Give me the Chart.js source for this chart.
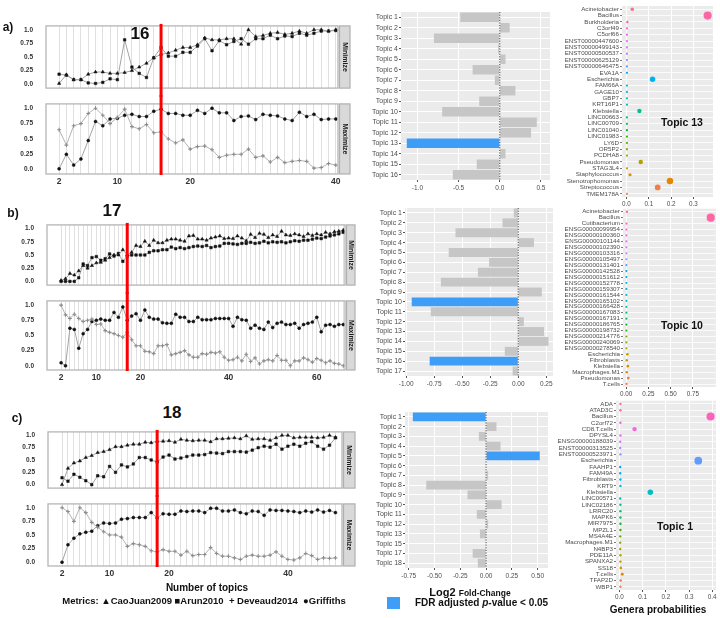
<!DOCTYPE html>
<html>
<head>
<meta charset="utf-8">
<script src="https://cdn.jsdelivr.net/npm/chart.js@4.4.1/dist/chart.umd.min.js"></script>
<style>
  body { margin: 0; background: #fff; }
  #fig { position: relative; width: 720px; height: 618px; overflow: hidden; font-family: "Liberation Sans", Arial, sans-serif; }
  #fig canvas { position: absolute; }
  .txt { position: absolute; font-weight: bold; color: #111; white-space: nowrap; line-height: 1; }
</style>
</head>
<body>
<div id="fig"></div>
<script>
// ===== DATA =====
const seq = (a, b) => Array.from({ length: b - a + 1 }, (_, i) => a + i);

// a) number of topics 2..40
const topicsA = seq(2, 40);
const caoA = [0.015,0.175,0.085,0.085,0.185,0.225,0.225,0.2,0.2,0.215,0.25,0.315,0.385,0.485,0.55,0.575,0.625,0.675,0.675,0.725,0.85,0.815,0.815,0.835,0.835,0.735,1.0,0.875,0.895,0.935,0.95,0.915,0.935,0.975,0.935,1.0,1.0,0.975,1.0];
const arunA = [0.185,0.165,0.085,0.085,0.025,0.015,0.035,0.1,0.085,0.815,0.315,0.2,0.125,0.485,0.675,0.515,0.515,0.585,0.585,0.7,0.835,0.615,0.8,0.725,0.785,0.835,0.735,0.835,0.835,0.9,0.835,0.885,0.875,0.935,0.9,0.935,0.975,0.975,0.985];
const deveaudA = [0.65,0.4,0.715,0.75,0.915,1.0,0.885,0.75,0.85,0.985,0.7,0.665,0.735,0.6,0.615,0.5,0.435,0.485,0.335,0.375,0.385,0.325,0.2,0.235,0.25,0.25,0.335,0.2,0.225,0.125,0.2,0.115,0.135,0.15,0.135,0.025,0.035,0.1,0.075];
const griffithsA = [0.015,0.25,0.075,0.175,0.475,0.785,0.715,0.825,0.835,0.885,0.9,0.865,0.865,0.95,0.985,0.915,0.915,0.885,0.885,0.965,0.915,1.0,0.925,0.925,0.8,0.865,0.875,0.815,0.9,0.885,0.875,0.825,0.8,0.935,0.865,0.9,0.815,0.825,0.825];
const xLabelsA = [2, 10, 20, 40];
const chosenA = 16;

// b) number of topics 2..66
const topicsB = seq(2, 66);
const caoB = [0.02,0.05,0.15,0.12,0.2,0.3,0.25,0.3,0.35,0.36,0.4,0.45,0.5,0.5,0.6,0.5,0.55,0.68,0.66,0.76,0.68,0.78,0.73,0.73,0.78,0.8,0.8,0.78,0.76,0.86,0.87,0.8,0.8,0.78,0.82,0.84,0.86,0.81,0.82,0.81,0.86,0.82,0.77,0.89,0.83,0.91,0.89,0.83,0.88,0.85,0.95,0.88,0.87,0.9,0.88,0.85,0.9,0.87,0.9,0.88,0.93,0.9,0.94,0.95,0.97];
const arunB = [0.0,0.0,0.0,0.0,0.07,0.33,0.3,0.45,0.47,0.4,0.43,0.52,0.48,0.53,0.38,0.48,0.5,0.5,0.5,0.5,0.55,0.58,0.58,0.6,0.6,0.65,0.62,0.64,0.62,0.64,0.66,0.67,0.66,0.68,0.64,0.66,0.67,0.72,0.72,0.71,0.7,0.72,0.72,0.74,0.72,0.73,0.76,0.73,0.75,0.74,0.75,0.73,0.75,0.77,0.76,0.78,0.78,0.8,0.82,0.81,0.84,0.86,0.88,0.9,0.93];
const deveaudB = [1.0,0.84,0.78,0.85,0.78,0.73,0.75,0.77,0.68,0.69,0.58,0.55,0.53,0.5,0.47,0.55,0.43,0.33,0.33,0.24,0.23,0.2,0.33,0.33,0.35,0.18,0.2,0.22,0.25,0.18,0.14,0.14,0.2,0.19,0.22,0.21,0.23,0.14,0.09,0.1,0.14,0.08,0.19,0.07,0.13,0.03,0.08,0.1,0.08,0.17,0.09,0.09,0.0,0.08,0.08,0.13,0.1,0.06,0.12,0.09,0.05,0.08,0.04,0.03,0.0];
const griffithsB = [0.05,0.0,0.62,0.6,0.29,0.53,0.6,0.73,0.75,0.77,0.75,0.75,0.88,0.8,0.97,0.75,0.82,0.86,0.75,0.92,0.8,0.77,0.77,0.71,0.7,0.7,0.85,0.8,0.8,0.73,0.73,0.8,0.76,0.76,0.76,0.78,0.78,0.78,0.78,0.65,0.8,0.76,0.75,0.62,0.67,0.62,0.6,0.72,0.63,0.7,0.72,0.68,0.68,0.7,0.62,0.68,0.7,0.72,0.8,0.56,0.67,0.68,0.65,0.68,0.68];
const xLabelsB = [2, 10, 20, 40, 60];
const chosenB = 17;

// c) number of topics 2..48
const topicsC = seq(2, 48);
const caoC = [0.0,0.33,0.44,0.48,0.55,0.59,0.65,0.67,0.71,0.77,0.77,0.8,0.82,0.82,0.86,0.85,0.88,0.88,0.89,0.86,0.92,0.9,0.89,0.9,0.9,0.87,0.93,0.93,0.94,0.95,0.93,0.99,0.92,0.93,0.93,0.9,0.95,1.0,1.0,0.95,0.96,0.96,0.96,0.95,0.96,1.0,0.96];
const arunC = [0.14,0.07,0.21,0.15,0.08,0.0,0.18,0.16,0.37,0.25,0.4,0.36,0.42,0.55,0.55,0.5,0.46,0.56,0.6,0.52,0.54,0.57,0.6,0.6,0.61,0.65,0.64,0.63,0.67,0.67,0.67,0.66,0.7,0.75,0.78,0.76,0.82,0.72,0.78,0.82,0.78,0.84,0.87,0.78,0.72,0.8,0.95];
const deveaudC = [1.0,0.93,0.75,1.0,0.91,0.73,0.64,0.56,0.5,0.5,0.46,0.29,0.34,0.32,0.29,0.21,0.19,0.23,0.2,0.2,0.13,0.2,0.12,0.14,0.14,0.27,0.16,0.11,0.11,0.08,0.05,0.11,0.13,0.11,0.11,0.13,0.19,0.11,0.05,0.04,0.08,0.16,0.12,0.05,0.08,0.07,0.08];
const griffithsC = [0.0,0.32,0.44,0.52,0.55,0.57,0.67,0.72,0.71,0.72,0.79,0.8,0.82,0.82,0.82,0.91,0.81,0.89,0.88,0.88,0.94,0.93,0.94,0.94,0.91,0.99,0.99,0.94,0.94,0.96,0.91,0.89,0.94,0.93,0.86,0.96,0.95,0.95,0.94,0.93,0.91,0.94,0.92,0.96,0.92,0.95,0.91];
const xLabelsC = [2, 10, 20, 40];
const chosenC = 18;

const yTicks = [0, 0.25, 0.5, 0.75, 1];
const yTickText = ['0.0', '0.25', '0.5', '0.75', '1.0'];

// log2 fold-change per topic
const barTopicsA = ['Topic 1','Topic 2','Topic 3','Topic 4','Topic 5','Topic 6','Topic 7','Topic 8','Topic 9','Topic 10','Topic 11','Topic 12','Topic 13','Topic 14','Topic 15','Topic 16'];
const lfcA = [-0.48,0.12,-0.8,-0.02,0.07,-0.33,-0.06,0.19,-0.25,-0.7,0.45,0.38,-1.13,0.07,-0.28,-0.57];
const sigA = ['Topic 13'];
const lfcTicksA = [-1.0, -0.5, 0.0, 0.5];
const lfcTickTextA = ['-1.0', '-0.5', '0.0', '0.5'];

const barTopicsB = ['Topic 1','Topic 2','Topic 3','Topic 4','Topic 5','Topic 6','Topic 7','Topic 8','Topic 9','Topic 10','Topic 11','Topic 12','Topic 13','Topic 14','Topic 15','Topic 16','Topic 17'];
const lfcB = [-0.04,-0.14,-0.56,0.14,-0.62,-0.26,-0.36,-0.69,0.21,-0.95,-0.78,0.05,0.23,0.27,-0.12,-0.79,-0.05];
const sigB = ['Topic 10', 'Topic 16'];
const lfcTicksB = [-1.0, -0.75, -0.5, -0.25, 0.0, 0.25];
const lfcTickTextB = ['-1.00', '-0.75', '-0.50', '-0.25', '0.00', '0.25'];

const barTopicsC = ['Topic 1','Topic 2','Topic 3','Topic 4','Topic 5','Topic 6','Topic 7','Topic 8','Topic 9','Topic 10','Topic 11','Topic 12','Topic 13','Topic 15','Topic 17','Topic 18'];
const lfcC = [-0.71,0.1,-0.07,0.14,0.52,0.0,0.02,-0.58,-0.18,0.15,-0.09,0.02,-0.06,0.0,-0.13,-0.08];
const sigC = ['Topic 1', 'Topic 5'];
const lfcTicksC = [-0.75, -0.5, -0.25, 0.0, 0.25, 0.5];
const lfcTickTextC = ['-0.75', '-0.50', '-0.25', '0.00', '0.25', '0.50'];

// genera probabilities per topic
const generaA = ['Acinetobacter','Bacillus','Burkholderia','C3orf49','C5orf66','ENST00000447600','ENST00000499143','ENST00000500537','ENST00000625129','ENST00000646475','EVA1A','Escherichia','FAM66A','GAGE10','GBP7','KRT16P1','Klebsiella','LINC00663','LINC00709','LINC01040','LINC01983','LY6D','OR5P2','PCDHA8','Pseudomonas','STAG3L4','Staphylococcus','Stenotrophomonas','Streptococcus','TMEM178A'];
const probA = [0.026,0.364,0.004,0.002,0.002,0.002,0.002,0.002,0.002,0.002,0.002,0.117,0.002,0.002,0.002,0.002,0.058,0.002,0.002,0.002,0.002,0.002,0.002,0.002,0.064,0.002,0.016,0.195,0.14,0.002];
const probTicksA = [0, 0.1, 0.2, 0.3];
const probTickTextA = ['0.0', '0.1', '0.2', '0.3'];

const generaB = ['Acinetobacter','Bacillus','Cutibacterium','ENSG00000099954','ENSG00000100360','ENSG00000101144','ENSG00000102390','ENSG00000103316','ENSG00000105497','ENSG00000131401','ENSG00000142528','ENSG00000151612','ENSG00000152778','ENSG00000159307','ENSG00000161544','ENSG00000165102','ENSG00000166428','ENSG00000167083','ENSG00000167191','ENSG00000186765','ENSG00000198732','ENSG00000214776','ENSG00000240069','ENSG00000278540','Escherichia','Fibroblasts','Klebsiella','Macrophages.M1','Pseudomonas','T.cells'];
const probB = [0.01,0.95,0.005,0.004,0.004,0.004,0.004,0.004,0.004,0.004,0.004,0.004,0.004,0.004,0.004,0.004,0.004,0.004,0.004,0.004,0.004,0.004,0.004,0.004,0.015,0.008,0.02,0.008,0.025,0.006];
const probTicksB = [0, 0.25, 0.5, 0.75];
const probTickTextB = ['0.00', '0.25', '0.50', '0.75'];

const generaC = ['ADA','ATAD3C','Bacillus','C2orf72','CD8.T.cells','DPYSL4','ENSG00000188039','ENST00000313525','ENST00000523971','Escherichia','FAAHP1','FAM49A','Fibroblasts','KRT9','Klebsiella','LINC00571','LINC02186','LRRC20','MAPK6','MIR7975','MPZL1','MS4A4E','Macrophages.M1','N4BP3','PDE11A','SPANXA2','SS18','T.cells','TFAP2D','WBP1'];
const probC = [0.004,0.004,0.393,0.004,0.065,0.004,0.003,0.003,0.004,0.34,0.003,0.003,0.004,0.004,0.133,0.003,0.004,0.004,0.004,0.004,0.004,0.003,0.003,0.003,0.004,0.004,0.006,0.012,0.005,0.004];
const probTicksC = [0, 0.1, 0.2, 0.3, 0.4];
const probTickTextC = ['0.0', '0.1', '0.2', '0.3', '0.4'];

// ===== STYLE =====
Chart.defaults.font.family = '"Liberation Sans", Arial, sans-serif';
const BLUE = '#3d9df7';
const GREY_BAR = '#c6c6c6';
const PANEL_BG = '#ebebeb';
const MARK = {
  cao:   { pointStyle: 'triangle', r: 1.9, fill: '#111', line: '#a3a3a3' },
  arun:  { pointStyle: 'rect', r: 1.8, fill: '#111', line: '#a3a3a3' },
  dev:   { pointStyle: 'cross', r: 1.9, fill: '#8c8c8c', line: '#b3b3b3' },
  griff: { pointStyle: 'circle', r: 1.5, fill: '#111', line: '#a3a3a3' }
};

// ggplot-like hue palette (hcl, c=100, l=65)
function hcl(h, c = 100, l = 65) {
  const hr = h * Math.PI / 180;
  const U = c * Math.cos(hr), V = c * Math.sin(hr);
  const Xn = 95.047, Yn = 100, Zn = 108.883;
  const den = Xn + 15 * Yn + 3 * Zn;
  const un = 4 * Xn / den, vn = 9 * Yn / den;
  const Y = Yn * Math.pow((l + 16) / 116, 3);
  const u = U / (13 * l) + un, v = V / (13 * l) + vn;
  const X = Y * 9 * u / (4 * v), Z = Y * (12 - 3 * u - 20 * v) / (4 * v);
  const x = X / 100, y = Y / 100, z = Z / 100;
  const lin = [3.2404542 * x - 1.5371385 * y - 0.4985314 * z,
               -0.9692660 * x + 1.8760108 * y + 0.0415560 * z,
               0.0556434 * x - 0.2040259 * y + 1.0572252 * z];
  const rgb = lin.map(k => {
    k = k <= 0.0031308 ? 12.92 * k : 1.055 * Math.pow(k, 1 / 2.4) - 0.055;
    return Math.round(255 * Math.min(1, Math.max(0, k)));
  });
  return `rgb(${rgb.join(',')})`;
}
const huePalette = n => Array.from({ length: n }, (_, i) => hcl(15 + (n - 1 - i) * 360 / n));

// ===== HELPERS =====
const fig = document.getElementById('fig');

function canvasAt(left, top, w, h) {
  const c = document.createElement('canvas');
  c.width = w; c.height = h;
  c.style.left = left + 'px'; c.style.top = top + 'px';
  c.style.width = w + 'px'; c.style.height = h + 'px';
  fig.appendChild(c);
  return c;
}

function label(html, x, y, size, extra) {
  const d = document.createElement('div');
  d.className = 'txt';
  d.innerHTML = html;
  d.style.left = x + 'px';
  d.style.top = y + 'px';
  d.style.fontSize = size + 'px';
  d.style.transform = 'translate(-50%, -50%)';
  if (extra) Object.assign(d.style, extra);
  fig.appendChild(d);
  return d;
}

// ===== PLUGINS =====
const panelBg = {
  id: 'panelBg',
  beforeDraw(chart, args, o) {
    if (!o.color) return;
    const a = chart.chartArea, c = chart.ctx;
    c.save();
    c.fillStyle = o.color;
    c.fillRect(a.left, a.top, a.right - a.left, a.bottom - a.top);
    c.restore();
  }
};

const panelBox = {
  id: 'panelBox',
  afterDraw(chart, args, o) {
    const a = chart.chartArea, c = chart.ctx;
    c.save();
    c.strokeStyle = o.color || '#b5b5b5';
    c.lineWidth = 1.3;
    c.strokeRect(a.left, a.top, a.right - a.left, a.bottom - a.top);
    c.restore();
  }
};

const strip = {
  id: 'strip',
  afterDraw(chart, args, o) {
    if (!o.text) return;
    const a = chart.chartArea, c = chart.ctx;
    const x0 = a.right + 1.5, w = o.width;
    c.save();
    c.fillStyle = '#d9d9d9';
    c.fillRect(x0, a.top, w, a.bottom - a.top);
    c.strokeStyle = '#b0b0b0';
    c.lineWidth = 1.2;
    c.strokeRect(x0, a.top, w, a.bottom - a.top);
    c.translate(x0 + w / 2, (a.top + a.bottom) / 2);
    c.rotate(Math.PI / 2);
    c.fillStyle = '#1a1a1a';
    c.font = 'bold 7px "Liberation Sans", Arial, sans-serif';
    c.textAlign = 'center';
    c.textBaseline = 'middle';
    c.fillText(o.text, 0, 0);
    c.restore();
  }
};

const redLine = {
  id: 'redLine',
  afterDraw(chart, args, o) {
    if (o.at == null) return;
    const x = chart.scales.x.getPixelForValue(o.at);
    const a = chart.chartArea, c = chart.ctx;
    c.save();
    c.strokeStyle = '#ff0000';
    c.lineWidth = 3;
    c.beginPath();
    c.moveTo(x, o.fromCanvasTop ? 0 : a.top - 2);
    c.lineTo(x, o.toCanvasBottom ? chart.height : a.bottom + 1);
    c.stroke();
    c.restore();
  }
};

const zeroLine = {
  id: 'zeroLine',
  afterDatasetsDraw(chart) {
    const x = chart.scales.x.getPixelForValue(0);
    const a = chart.chartArea, c = chart.ctx;
    c.save();
    c.strokeStyle = '#444';
    c.lineWidth = 1;
    c.setLineDash([1.2, 1.4]);
    c.beginPath();
    c.moveTo(x, a.top);
    c.lineTo(x, a.bottom);
    c.stroke();
    c.restore();
  }
};

// ===== TOPIC-NUMBER PANELS (Minimize / Maximize) =====
function topicPanel(o) {
  const h = o.bottom - o.top + 4 + (o.showX ? o.xLabH : 0);
  const w = o.stripR + 2;
  const cv = canvasAt(0, o.top - 2, w, h);
  return new Chart(cv, {
    type: 'line',
    data: {
      datasets: o.series.map(s => ({
        data: o.topics.map((k, i) => ({ x: k, y: s.values[i] })),
        borderColor: s.mark.line,
        borderWidth: 1,
        pointStyle: s.mark.pointStyle,
        pointRadius: s.mark.r,
        pointBackgroundColor: s.mark.fill,
        pointBorderColor: s.mark.fill,
        pointBorderWidth: s.mark.pointStyle === 'cross' ? 1.1 : 0.5,
        tension: 0
      }))
    },
    options: {
      responsive: false,
      animation: false,
      events: [],
      layout: { padding: { top: 2, bottom: o.showX ? 0 : 2, left: 0, right: w - o.plotR } },
      plugins: {
        legend: { display: false },
        tooltip: { enabled: false },
        panelBox: { color: '#b5b5b5' },
        strip: { text: o.strip, width: o.stripR - o.plotR - 1.5 },
        redLine: { at: o.chosen, fromCanvasTop: o.showX, toCanvasBottom: !o.showX }
      },
      scales: {
        x: {
          type: 'linear',
          min: o.xMin,
          max: o.xMax,
          afterBuildTicks: s => { s.ticks = o.topics.map(v => ({ value: v })); },
          afterFit: s => { s.height = o.showX ? o.xLabH : 0; },
          grid: { color: '#e0e0e0', lineWidth: 1, drawTicks: false },
          border: { display: false },
          ticks: {
            display: o.showX,
            autoSkip: false,
            maxRotation: 0,
            padding: 3,
            color: '#333',
            font: { size: 8.5, weight: 'bold' },
            callback: v => (o.xLabels.includes(v) ? String(v) : '')
          }
        },
        y: {
          min: -0.07,
          max: 1.07,
          afterBuildTicks: s => { s.ticks = yTicks.map(v => ({ value: v })); },
          afterFit: s => { s.width = o.plotL; },
          grid: { display: false },
          border: { display: false },
          ticks: {
            padding: 5,
            color: '#333',
            font: { size: 6.5, weight: 'bold' },
            callback: (v, i) => yTickText[i]
          }
        }
      }
    },
    plugins: [panelBox, strip, redLine]
  });
}

function topicRow(r) {
  const common = {
    topics: r.topics, xMin: r.xMin, xMax: r.xMax, xLabels: r.xLabels, chosen: r.chosen,
    plotL: r.plotL, plotR: r.plotR, stripR: r.stripR, xLabH: r.xLabH
  };
  topicPanel(Object.assign({}, common, {
    top: r.minTop, bottom: r.minBot, showX: false, strip: 'Minimize',
    series: [{ values: r.cao, mark: MARK.cao }, { values: r.arun, mark: MARK.arun }]
  }));
  topicPanel(Object.assign({}, common, {
    top: r.maxTop, bottom: r.maxBot, showX: true, strip: 'Maximize',
    series: [{ values: r.dev, mark: MARK.dev }, { values: r.griff, mark: MARK.griff }]
  }));
}

// ===== FOLD-CHANGE BARS =====
function foldChangeChart(o) {
  const cv = canvasAt(o.left, o.top, o.w, o.h);
  return new Chart(cv, {
    type: 'bar',
    data: {
      labels: o.topics,
      datasets: [{
        data: o.values,
        backgroundColor: o.topics.map(t => (o.sig.includes(t) ? BLUE : GREY_BAR)),
        barPercentage: 0.9,
        categoryPercentage: 1
      }]
    },
    options: {
      indexAxis: 'y',
      responsive: false,
      animation: false,
      events: [],
      layout: { padding: { top: o.plotTop - o.top, right: o.left + o.w - o.plotR, bottom: 0, left: 0 } },
      plugins: { legend: { display: false }, tooltip: { enabled: false }, panelBg: { color: PANEL_BG } },
      scales: {
        x: {
          min: o.xMin,
          max: o.xMax,
          afterBuildTicks: s => { s.ticks = o.ticks.map(v => ({ value: v })); },
          afterFit: s => { s.height = o.top + o.h - o.plotBot; },
          grid: { color: '#ffffff', lineWidth: 1, tickColor: '#555', tickLength: 2 },
          border: { display: false },
          ticks: { padding: 2, color: '#4d4d4d', font: { size: 6.5 }, maxRotation: 0, callback: (v, i) => o.tickText[i] }
        },
        y: {
          afterFit: s => { s.width = o.plotL - o.left; },
          grid: { color: '#ffffff', lineWidth: 1, tickColor: '#555', tickLength: 2, offset: false },
          border: { display: false },
          ticks: { autoSkip: false, padding: 1, color: '#4d4d4d', font: { size: 7 } }
        }
      }
    },
    plugins: [panelBg, zeroLine]
  });
}

// ===== GENERA DOT PLOTS =====
function generaChart(o) {
  const cv = canvasAt(o.left, o.top, o.w, o.h);
  const cols = huePalette(o.genera.length);
  const pmax = Math.max(...o.values);
  return new Chart(cv, {
    type: 'scatter',
    data: {
      datasets: [{
        data: o.genera.map((g, i) => ({ x: o.values[i], y: g })),
        pointRadius: ctx => 0.9 + 3.2 * Math.sqrt(o.values[ctx.dataIndex] / pmax),
        pointBackgroundColor: cols,
        pointBorderWidth: 0
      }]
    },
    options: {
      responsive: false,
      animation: false,
      events: [],
      layout: { padding: { top: o.plotTop - o.top, right: o.left + o.w - o.plotR, bottom: 0, left: 0 } },
      plugins: { legend: { display: false }, tooltip: { enabled: false }, panelBg: { color: PANEL_BG } },
      scales: {
        x: {
          type: 'linear',
          min: o.xMin,
          max: o.xMax,
          afterBuildTicks: s => { s.ticks = o.ticks.map(v => ({ value: v })); },
          afterFit: s => { s.height = o.top + o.h - o.plotBot; },
          grid: { color: '#ffffff', lineWidth: 1, tickColor: '#555', tickLength: 2 },
          border: { display: false },
          ticks: { padding: 1, color: '#4d4d4d', font: { size: 6.3 }, maxRotation: 0, callback: (v, i) => o.tickText[i] }
        },
        y: {
          type: 'category',
          labels: o.genera,
          offset: true,
          afterFit: s => { s.width = o.plotL - o.left; },
          grid: { color: '#ffffff', lineWidth: 0.8, tickColor: '#555', tickLength: 2, offset: false },
          border: { display: false },
          ticks: { autoSkip: false, padding: 1, color: '#4d4d4d', font: { size: 6.2 } }
        }
      }
    },
    plugins: [panelBg]
  });
}

// ===== BUILD =====
topicRow({
  topics: topicsA, cao: caoA, arun: arunA, dev: deveaudA, griff: griffithsA,
  xMin: 0.2, xMax: 40.3, xLabels: xLabelsA, chosen: chosenA,
  plotL: 46, plotR: 338, stripR: 350, xLabH: 16,
  minTop: 19, minBot: 95, maxTop: 97, maxBot: 172
});
topicRow({
  topics: topicsB, cao: caoB, arun: arunB, dev: deveaudB, griff: griffithsB,
  xMin: -1.2, xMax: 66.4, xLabels: xLabelsB, chosen: chosenB,
  plotL: 47, plotR: 345, stripR: 355, xLabH: 16,
  minTop: 218, minBot: 292, maxTop: 294, maxBot: 368
});
topicRow({
  topics: topicsC, cao: caoC, arun: arunC, dev: deveaudC, griff: griffithsC,
  xMin: -0.36, xMax: 49.1, xLabels: xLabelsC, chosen: chosenC,
  plotL: 48, plotR: 342, stripR: 355, xLabH: 11,
  minTop: 425, minBot: 495, maxTop: 497, maxBot: 564
});

foldChangeChart({ left: 350, top: 6, w: 205, h: 194, plotL: 401, plotR: 550, plotTop: 12, plotBot: 180,
  topics: barTopicsA, values: lfcA, sig: sigA, xMin: -1.2, xMax: 0.61, ticks: lfcTicksA, tickText: lfcTickTextA });
foldChangeChart({ left: 350, top: 202, w: 205, h: 190, plotL: 405, plotR: 553, plotTop: 208, plotBot: 376,
  topics: barTopicsB, values: lfcB, sig: sigB, xMin: -1.01, xMax: 0.31, ticks: lfcTicksB, tickText: lfcTickTextB });
foldChangeChart({ left: 350, top: 406, w: 205, h: 176, plotL: 405, plotR: 548, plotTop: 412, plotBot: 568,
  topics: barTopicsC, values: lfcC, sig: sigC, xMin: -0.786, xMax: 0.6, ticks: lfcTicksC, tickText: lfcTickTextC });

generaChart({ left: 540, top: 0, w: 180, h: 208, plotL: 622, plotR: 713, plotTop: 6, plotBot: 197,
  genera: generaA, values: probA, xMin: -0.02, xMax: 0.388, ticks: probTicksA, tickText: probTickTextA });
generaChart({ left: 540, top: 204, w: 180, h: 195, plotL: 623, plotR: 716, plotTop: 208, plotBot: 387,
  genera: generaB, values: probB, xMin: -0.034, xMax: 1.008, ticks: probTicksB, tickText: probTickTextB });
generaChart({ left: 535, top: 396, w: 185, h: 205, plotL: 616, plotR: 716, plotTop: 399.5, plotBot: 590,
  genera: generaC, values: probC, xMin: -0.015, xMax: 0.416, ticks: probTicksC, tickText: probTickTextC });

// ===== TEXT =====
label('a)', 8, 27, 12);
label('b)', 13, 213, 12);
label('c)', 17, 418, 12);
label(String(chosenA), 140, 33, 17);
label(String(chosenB), 112, 210, 17);
label(String(chosenC), 172, 412, 17);
label('Topic 13', 682, 122, 10.5);
label('Topic 10', 682, 325, 10.5);
label('Topic 1', 675, 526, 10.5);
label('Number of topics', 207, 588, 10);
label('Metrics: \u25B2CaoJuan2009 \u25A0Arun2010 &nbsp;+ Deveaud2014 &nbsp;\u25CFGriffiths', 204, 601, 9.5);
label('Log2 <span style="font-size:8.5px">Fold-Change</span>', 470, 592, 11);
const key = document.createElement('div');
Object.assign(key.style, { position: 'absolute', left: '387px', top: '597px', width: '13px', height: '12px', background: BLUE });
fig.appendChild(key);
label('FDR adjusted <i>p</i>-value &lt; 0.05', 415, 603, 10, { transform: 'translate(0, -50%)' });
label('Genera probabilities', 658, 610, 10);
</script>
</body>
</html>
